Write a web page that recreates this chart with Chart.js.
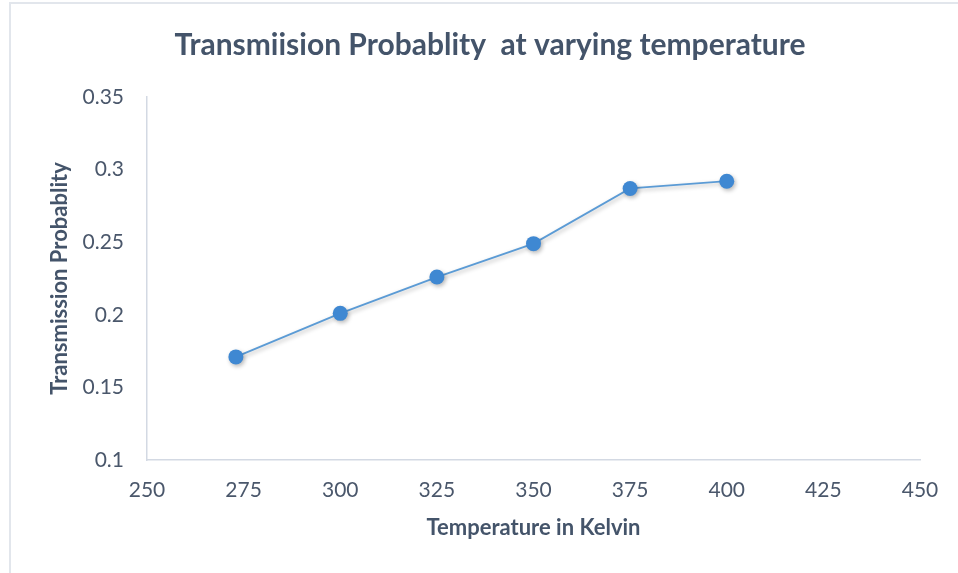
<!DOCTYPE html>
<html>
<head>
<meta charset="utf-8">
<script src="https://cdn.jsdelivr.net/npm/chart.js@4/dist/chart.umd.min.js"></script>
<style>
  html, body { margin: 0; padding: 0; background: #fff; }
  #wrap { position: relative; width: 958px; height: 573px; }
  #frame {
    position: absolute; left: 9px; top: 2px; right: 0; bottom: 0;
    border-left: 2px solid #e2e6ec; border-top: 2px solid #e2e6ec;
  }
  #chart { position: absolute; left: 0; top: 0; }
</style>
</head>
<body>
<div id="wrap">
  <div id="frame"></div>
  <canvas id="chart" width="958" height="573"></canvas>
</div>
<script>
// data
const temperatures = [273, 300, 325, 350, 375, 400];
const probabilities = [0.171, 0.201, 0.226, 0.249, 0.287, 0.292];

const xMin = 250, xMax = 450, xStep = 25;
const yMin = 0.1, yMax = 0.35, yStep = 0.05;

const textColor = "#4a576b";
const titleColor = "#44546a";
const axisColor = "#d3d9e3";

// soft drop shadow under the markers, like the office chart
const shadowPlugin = {
    id: "markerShadow",
    beforeDatasetDraw(chart) {
        const ctx = chart.ctx;
        ctx.save();
        ctx.shadowColor = "rgba(0,0,0,0.28)";
        ctx.shadowBlur = 4;
        ctx.shadowOffsetX = 1.5;
        ctx.shadowOffsetY = 2;
    },
    afterDatasetDraw(chart) {
        chart.ctx.restore();
    },
};

new Chart(document.getElementById("chart"), {
    type: "scatter",
    data: {
        datasets: [
            {
                label: "Transmission Probablity",
                data: temperatures.map((t, i) => ({ x: t, y: probabilities[i] })),
                showLine: true,
                borderColor: "#5b9bd5",
                borderWidth: 1.8,
                pointRadius: 7.5,
                pointHoverRadius: 7.5,
                pointBackgroundColor: "#3f88d2",
                pointBorderColor: "#3f88d2",
                pointBorderWidth: 0,
            },
        ],
    },
    options: {
        responsive: false,
        animation: false,
        layout: { padding: { left: 22, right: 0, top: 0, bottom: 0 } },
        plugins: {
            legend: { display: false },
            tooltip: { enabled: false },
            title: {
                display: true,
                text: "Transmiision Probablity  at varying temperature",
                color: titleColor,
                font: { family: "Lato", size: 30, weight: "bold", lineHeight: 1.2 },
                padding: { top: 27, bottom: 34 },
            },
        },
        scales: {
            x: {
                type: "linear",
                min: xMin,
                max: xMax,
                grid: { display: false, drawTicks: false },
                border: { display: true, color: axisColor, width: 1.5 },
                ticks: {
                    stepSize: xStep,
                    color: textColor,
                    padding: 18,
                    maxRotation: 0,
                    font: { family: "Lato", size: 21 },
                },
                title: {
                    display: true,
                    text: "Temperature in Kelvin",
                    color: titleColor,
                    font: { family: "Lato", size: 22, weight: "bold", lineHeight: 1.2 },
                    padding: { top: 0, bottom: 32 },
                },
                afterFit: (s) => { s.height = 113; },
            },
            y: {
                min: yMin,
                max: yMax,
                grid: { display: false, drawTicks: false },
                border: { display: true, color: axisColor, width: 1.5 },
                ticks: {
                    stepSize: yStep,
                    color: textColor,
                    padding: 23,
                    font: { family: "Lato", size: 21 },
                    callback: (v) => String(Number(v.toFixed(2))),
                },
                title: {
                    display: true,
                    text: "Transmission Probablity",
                    color: titleColor,
                    font: { family: "Lato", size: 22, weight: "bold", lineHeight: 1.2 },
                    padding: { top: 25, bottom: 0 },
                },
                afterFit: (s) => { s.width = 125; },
            },
            // invisible spacer keeping the plot's right edge at 450
            yRight: {
                position: "right",
                display: true,
                grid: { display: false, drawTicks: false },
                border: { display: false },
                ticks: { display: false },
                afterFit: (s) => { s.width = 38; },
            },
        },
    },
    plugins: [shadowPlugin],
});
</script>
</body>
</html>
